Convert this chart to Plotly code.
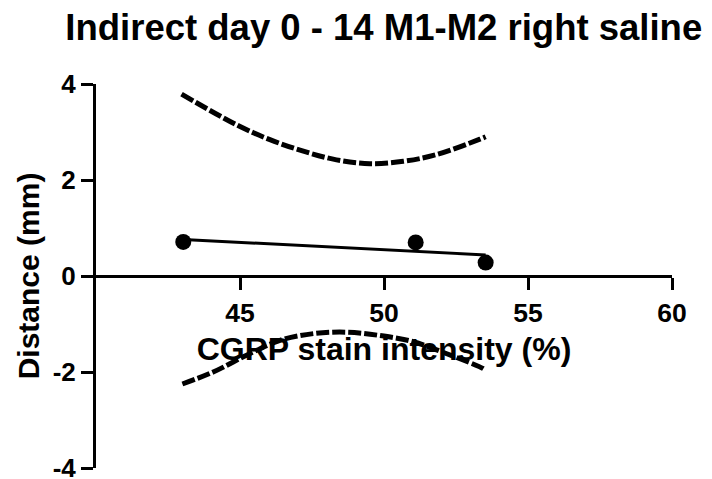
import plotly.graph_objects as go

# Data
x_vals = [43.03, 51.10, 53.53]
y_vals = [0.71, 0.70, 0.28]

fit_x = [43.03, 53.53]
fit_y = [0.76, 0.44]

upper_x = [42.97, 44.88, 46.04, 47.20, 48.35, 49.51, 50.67, 51.83, 53.33, 53.53]
upper_y = [3.79, 3.15, 2.84, 2.60, 2.42, 2.34, 2.39, 2.53, 2.85, 2.90]

lower_x = [43.00, 44.07, 45.23, 46.39, 47.55, 48.70, 49.86, 51.02, 52.18, 53.45, 53.53]
lower_y = [-2.25, -2.00, -1.65, -1.34, -1.20, -1.17, -1.24, -1.37, -1.62, -1.93, -1.97]

x_ticks = [45, 50, 55, 60]
y_ticks = [-4, -2, 0, 2, 4]

FONT = "Arial, 'Liberation Sans', sans-serif"

fig = go.Figure()
band_line = dict(color="black", width=5, dash="13px,3px", shape="spline")
fig.add_trace(go.Scatter(x=upper_x, y=upper_y, mode="lines", line=band_line, hoverinfo="skip"))
fig.add_trace(go.Scatter(x=lower_x, y=lower_y, mode="lines", line=band_line, hoverinfo="skip"))
fig.add_trace(go.Scatter(x=fit_x, y=fit_y, mode="lines", line=dict(color="black", width=3)))
fig.add_trace(go.Scatter(x=x_vals, y=y_vals, mode="markers",
                         marker=dict(color="black", size=16, symbol="circle")))

fig.update_layout(
    width=712, height=479,
    margin=dict(l=96, r=40, t=84, b=11),
    paper_bgcolor="white", plot_bgcolor="white",
    showlegend=False,
    font=dict(family=FONT, color="black", weight="bold"),
    title=dict(text="Indirect day 0 - 14 M1-M2 right saline",
               x=0.539, xanchor="center", y=0.944, yanchor="middle",
               font=dict(size=36.5, family=FONT, color="black", weight="bold")),
    xaxis=dict(range=[40, 60], tickvals=x_ticks, ticktext=[str(v) for v in x_ticks],
               showgrid=False, zeroline=False, showline=True, linecolor="black", linewidth=3,
               ticks="outside", ticklen=12, tickwidth=3, tickcolor="black",
               anchor="free", position=0.5, ticklabeloverflow="allow", automargin=False,
               tickfont=dict(size=26.5, family=FONT, color="black", weight="bold"),
               title=dict(text="CGRP stain intensity (%)",
                          font=dict(size=32, family=FONT, color="black", weight="bold"),
                          standoff=10)),
    yaxis=dict(range=[-4, 4], tickvals=y_ticks, ticktext=[str(v) for v in y_ticks],
               showgrid=False, zeroline=False, showline=True, linecolor="black", linewidth=3,
               ticks="outside", ticklen=12, tickwidth=3, tickcolor="black",
               ticklabeloverflow="allow", automargin=False,
               tickfont=dict(size=26, family=FONT, color="black", weight="bold"),
               title=dict(text="Distance (mm)",
                          font=dict(size=30, family=FONT, color="black", weight="bold"),
                          standoff=5)),
)

fig.write_html("out.html")
